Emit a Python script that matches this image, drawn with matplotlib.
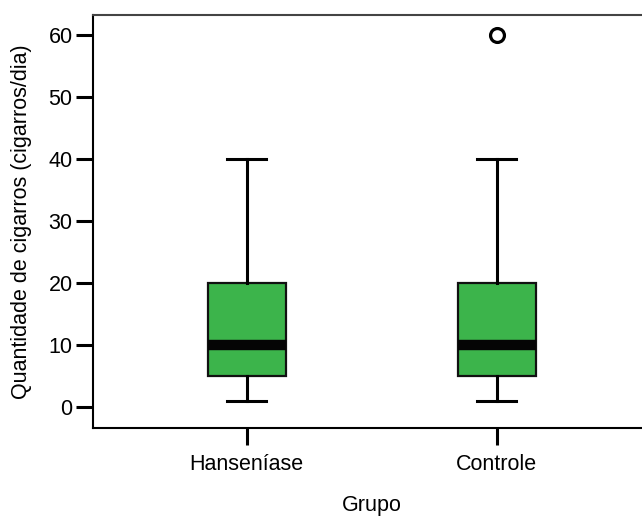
import matplotlib
matplotlib.use('Agg')
from matplotlib import pyplot as plt

plt.rcParams['font.family'] = ['Liberation Sans', 'DejaVu Sans']

# dados (cigarros/dia)
grupos = ['Hanseníase', 'Controle']
mediana = [10, 10]
q1 = [5, 5]
q3 = [20, 20]
whis_min = [1, 1]
whis_max = [40, 40]
outliers = [[], [60]]

stats = []
for i in range(len(grupos)):
  stats.append({'label': grupos[i], 'med': mediana[i], 'q1': q1[i], 'q3': q3[i],
                'whislo': whis_min[i], 'whishi': whis_max[i], 'fliers': outliers[i]})

W, H = 642, 518
fig = plt.figure(figsize=(W / 100, H / 100), dpi=100)
ax = fig.add_axes([93.5 / W, 1 - 428 / H, (651 - 93.5) / W, (428 - 15) / H])

ax.bxp(stats, positions=[1, 2], widths=0.31, patch_artist=True,
       boxprops=dict(facecolor='#3cb44b', edgecolor='#111111', linewidth=1.6),
       medianprops=dict(color='#050505', linewidth=7.5, solid_capstyle='butt'),
       whiskerprops=dict(color='black', linewidth=2.2),
       capprops=dict(color='black', linewidth=2.2),
       capwidths=0.155,
       flierprops=dict(marker='o', markersize=10, markerfacecolor='white',
                       markeredgecolor='black', markeredgewidth=2.3))

ax.set_xlim(0.387, 2.617)
ax.set_ylim(-3.34, 63.2)
ax.set_yticks(range(0, 61, 10))
ax.set_xticks([1, 2])
ax.set_xticklabels(grupos)

ax.spines['right'].set_visible(False)
for s in ['left', 'bottom', 'top']:
  ax.spines[s].set_linewidth(1.5)
ax.spines['top'].set_color('#444444')

ax.tick_params(axis='both', length=12, width=2.2, labelsize=15.5, color='black')
ax.tick_params(axis='x', pad=7)
ax.tick_params(axis='y', pad=3)

ax.set_xlabel('Grupo', fontsize=15.5, labelpad=14)
ax.set_ylabel('Quantidade de cigarros (cigarros/dia)', fontsize=15.5, labelpad=12)

plt.savefig('out.png', dpi=100)
